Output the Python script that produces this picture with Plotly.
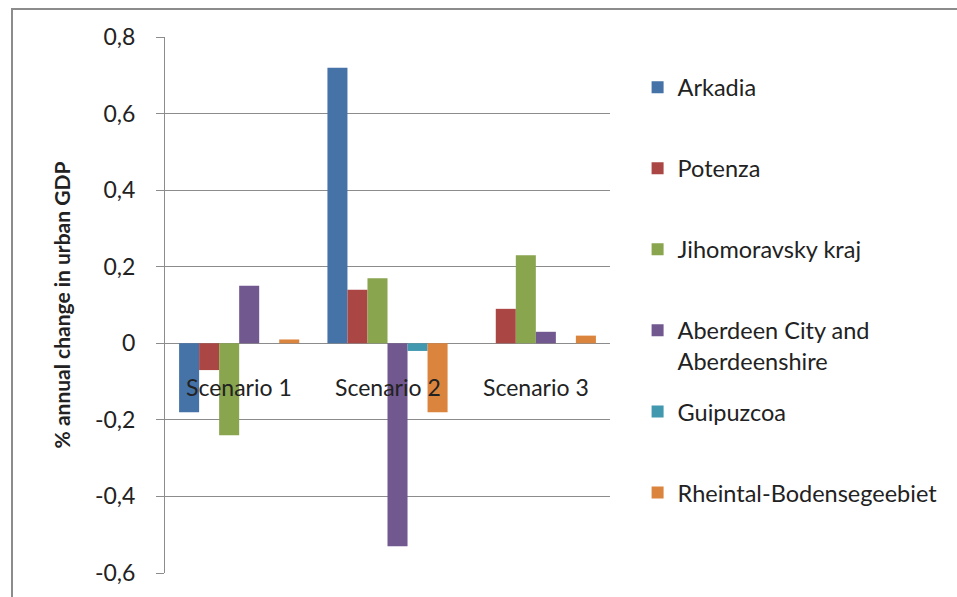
import plotly.graph_objects as go

categories = ["Scenario 1", "Scenario 2", "Scenario 3"]
series_names = ["Arkadia", "Potenza", "Jihomoravsky kraj",
                "Aberdeen City and<br>Aberdeenshire", "Guipuzcoa", "Rheintal-Bodensegeebiet"]
arkadia = [-0.18, 0.72, 0.0]
potenza = [-0.07, 0.14, 0.09]
jihomoravsky = [-0.24, 0.17, 0.23]
aberdeen = [0.15, -0.53, 0.03]
guipuzcoa = [0.0, -0.02, 0.0]
rheintal = [0.01, -0.18, 0.02]
series_values = [arkadia, potenza, jihomoravsky, aberdeen, guipuzcoa, rheintal]
colors = ["#4572A7", "#AA4643", "#89A54E", "#71588F", "#4198AF", "#DB843D"]
tick_vals = [-0.6, -0.4, -0.2, 0, 0.2, 0.4, 0.6, 0.8]
tick_text = ["-0,6", "-0,4", "-0,2", "0", "0,2", "0,4", "0,6", "0,8"]

FONT = "Lato"

fig = go.Figure()
for i, (name, vals, col) in enumerate(zip(series_names, series_values, colors)):
    fig.add_trace(go.Bar(
        x=categories, y=vals, name=name, marker_color=col,
        marker_line_width=0,
        legendgroup=f"g{i}",
        legend="legend" if i < 4 else "legend2",
    ))

for c in categories:
    fig.add_annotation(x=c, y=0, xref="x", yref="y", text=c, showarrow=False,
                       yanchor="top", yshift=-28,
                       font=dict(family=FONT, size=23, color="#222222"))

# outer frame
fig.add_shape(type="rect", xref="paper", yref="paper",
              x0=(12 - 165) / 445, x1=(990 - 165) / 445,
              y0=(573 - 640) / 536, y1=(573 - 9) / 536,
              line=dict(color="#8c8c8c", width=2), fillcolor="rgba(0,0,0,0)", layer="below")

legend_common = dict(
    font=dict(family=FONT, size=23.5, color="#222222"),
    tracegroupgap=47.5, valign="top", bgcolor="rgba(0,0,0,0)",
    xanchor="left", yanchor="top", itemclick=False,
)
fig.update_layout(
    width=957, height=597,
    margin=dict(l=165, r=347, t=37, b=24),
    paper_bgcolor="white", plot_bgcolor="white",
    barmode="group", bargap=0.19, bargroupgap=0,
    showlegend=True,
    legend=dict(x=1.062, y=0.947, **legend_common),
    legend2=dict(x=1.062, y=0.342, **legend_common),
    font=dict(family=FONT, color="#222222"),
    xaxis=dict(showticklabels=False, showgrid=False, zeroline=False, showline=False,
               ticks=""),
    yaxis=dict(range=[-0.6, 0.8], tickvals=tick_vals, ticktext=tick_text,
               showgrid=True, gridcolor="#8c8c8c", gridwidth=1,
               zeroline=True, zerolinecolor="#8c8c8c", zerolinewidth=1,
               showline=True, linecolor="#8c8c8c", linewidth=1,
               ticks="outside", ticklen=8, tickcolor="#8c8c8c",
               ticklabelstandoff=16,
               tickfont=dict(family=FONT, size=23, color="#222222"),
               title=dict(text="% annual change in urban GDP", standoff=18,
                          font=dict(family=FONT, size=21, color="#222222", weight="bold"))),
)

fig.write_html("out.html")
